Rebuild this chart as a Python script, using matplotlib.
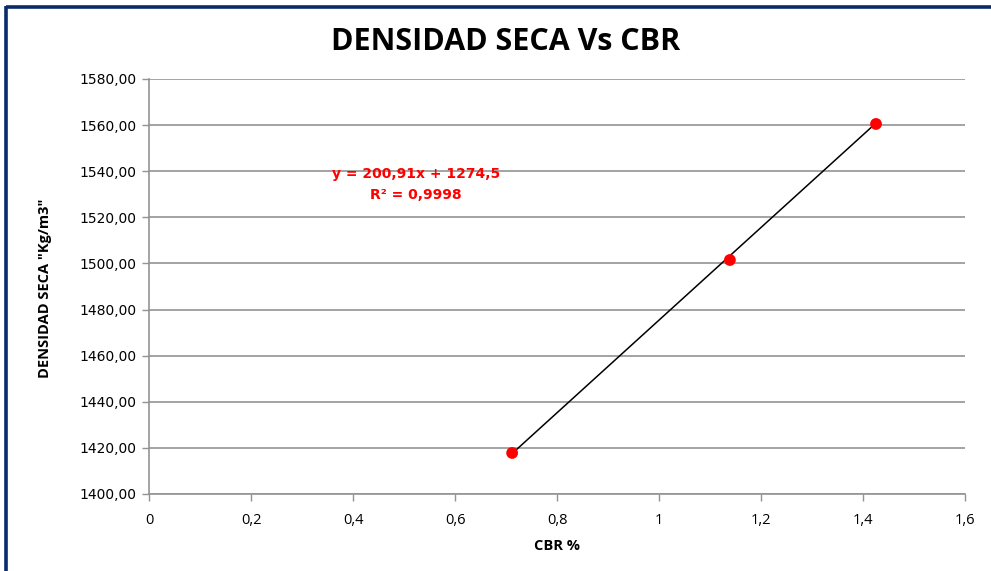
import matplotlib
matplotlib.use("Agg")
import matplotlib.pyplot as plt
from matplotlib.lines import Line2D
import numpy as np

# Data
cbr = [0.712, 1.139, 1.4255]
densidad = [1417.8, 1501.5, 1560.5]
slope, intercept = 200.91, 1274.5
eq_text = "y = 200,91x + 1274,5"
r2_text = "R² = 0,9998"
x_ticks = [0, 0.2, 0.4, 0.6, 0.8, 1.0, 1.2, 1.4, 1.6]
x_ticklabels = ["0", "0,2", "0,4", "0,6", "0,8", "1", "1,2", "1,4", "1,6"]
y_ticks = [1400, 1420, 1440, 1460, 1480, 1500, 1520, 1540, 1560, 1580]
y_ticklabels = ["1400,00", "1420,00", "1440,00", "1460,00", "1480,00",
                "1500,00", "1520,00", "1540,00", "1560,00", "1580,00"]

W, H = 991, 571
fig = plt.figure(figsize=(W / 100, H / 100), dpi=100)
fig.patch.set_facecolor("white")

ax = fig.add_axes([149 / W, (H - 494) / H, (965 - 149) / W, (494 - 79) / H])
ax.set_xlim(0, 1.6)
ax.set_ylim(1400, 1580)

# grid
ax.set_yticks(y_ticks)
ax.set_yticklabels(y_ticklabels, fontfamily="DejaVu Sans", fontsize=10)
ax.set_xticks(x_ticks)
ax.set_xticklabels(x_ticklabels, fontfamily="Open Sans", fontsize=10.5)
ax.yaxis.grid(True, color="#939393", linewidth=1.2)
ax.set_axisbelow(True)
for s in ["top", "right"]:
    ax.spines[s].set_visible(False)
for s in ["left", "bottom"]:
    ax.spines[s].set_color("#939393")
    ax.spines[s].set_linewidth(1.2)
ax.tick_params(axis="both", colors="#939393", length=5, width=1, labelcolor="black")
ax.tick_params(axis="x", pad=9)
ax.tick_params(axis="y", pad=4)

# trend line
xs = np.array([min(cbr), max(cbr)])
ax.plot(xs, slope * xs + intercept, color="black", linewidth=1.1, zorder=3)
ax.scatter(cbr, densidad, s=72, color="#ff0000", zorder=4, edgecolors="none")

ax.text(416 / W, 1 - 174 / H, eq_text, transform=fig.transFigure, color="#ff0000",
        fontsize=10, fontweight="bold", ha="center", va="center", fontfamily="DejaVu Sans")
ax.text(416 / W, 1 - 195 / H, r2_text, transform=fig.transFigure, color="#ff0000",
        fontsize=10, fontweight="bold", ha="center", va="center", fontfamily="DejaVu Sans")

fig.text(506 / W, 1 - 42 / H, "DENSIDAD SECA Vs CBR", fontsize=22, fontweight="bold",
         ha="center", va="center", fontfamily="Open Sans")
fig.text(45 / W, 1 - 288 / H, 'DENSIDAD SECA "Kg/m3"', rotation=90, fontsize=10.5,
         fontweight="bold", ha="center", va="center", fontfamily="Open Sans")
fig.text(557 / W, 1 - 546 / H, "CBR %", fontsize=10.5, fontweight="bold",
         ha="center", va="center", fontfamily="Open Sans")

# frame
navy = "#0b2a6b"
fig.add_artist(Line2D([6 / W, 6 / W], [0, 1 - 6 / H], transform=fig.transFigure,
                      color=navy, linewidth=2.6, solid_capstyle="butt"))
fig.add_artist(Line2D([6 / W, 1], [1 - 6.5 / H, 1 - 6.5 / H], transform=fig.transFigure,
                      color=navy, linewidth=2.6, solid_capstyle="butt"))

fig.savefig("out.png", dpi=100)
